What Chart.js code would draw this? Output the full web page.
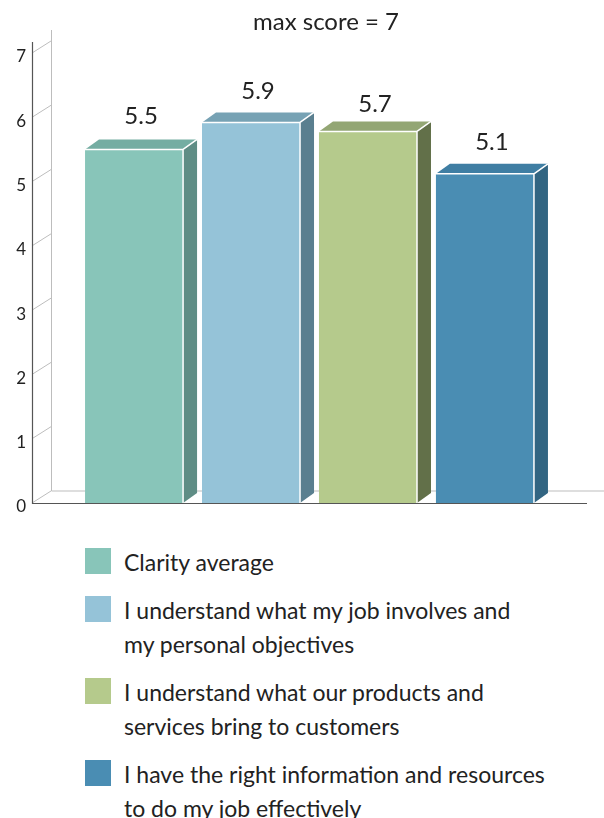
<!DOCTYPE html>
<html>
<head>
<meta charset="utf-8">
<script src="https://cdn.jsdelivr.net/npm/chart.js@4/dist/chart.umd.min.js"></script>
<style>
  html, body { margin: 0; padding: 0; background: #ffffff; }
  body { width: 604px; height: 818px; overflow: hidden; font-family: Lato, "Open Sans", sans-serif; color: #222; }
  #wrap { position: relative; width: 604px; height: 530px; }
  #legend { position: absolute; left: 0; top: 545px; width: 604px; }
  .item { display: flex; align-items: flex-start; margin-bottom: 14px; }
  .box { width: 26px; height: 26px; margin-left: 85px; margin-top: 3px; flex: none; }
  .txt { margin-left: 13px; font-size: 23px; line-height: 34px; margin-top: 0px; }
</style>
</head>
<body>
<div id="wrap"><canvas id="c"></canvas></div>
<div id="legend"></div>
<script>
// ---- data ----
const titleText = "max score = 7";
const categories = [""];
const seriesNames = [
  ["Clarity average"],
  ["I understand what my job involves and", "my personal objectives"],
  ["I understand what our products and", "services bring to customers"],
  ["I have the right information and resources", "to do my job effectively"]
];
const seriesValues = [5.5, 5.92, 5.78, 5.12];
const valueLabels = ["5.5", "5.9", "5.7", "5.1"];
const yTicks = [0, 1, 2, 3, 4, 5, 6, 7];

// ---- styles ----
const frontColors = ["#88c5b9", "#95c3d8", "#b5ca8c", "#4a8db3"];
const topColors   = ["#74ada2", "#77a2b4", "#93a674", "#3f7ea3"];
const sideColors  = ["#5f8d85", "#5a7f8f", "#627049", "#326582"];
const DX = 14, DY = 10;        // bar depth
const WDX = 19, WDY = 12;      // wall depth

const threeD = {
  id: "threeD",
  beforeDatasetsDraw(chart) {
    const ctx = chart.ctx, a = chart.chartArea, ys = chart.scales.y;
    ctx.save();
    ctx.strokeStyle = "#bdbdbd"; ctx.lineWidth = 1;
    ctx.beginPath();
    ctx.moveTo(a.left + WDX + 0.5, a.top - 23);
    ctx.lineTo(a.left + WDX + 0.5, a.bottom - WDY);
    ctx.lineTo(chart.width, a.bottom - WDY);
    ctx.stroke();
    yTicks.forEach(v => {
      const p = ys.getPixelForValue(v);
      ctx.beginPath();
      ctx.moveTo(a.left, p);
      ctx.lineTo(a.left + WDX, p - WDY);
      ctx.stroke();
    });
    ctx.strokeStyle = "#555"; ctx.lineWidth = 1.2;
    ctx.beginPath();
    ctx.moveTo(a.left + 0.5, a.top - 11);
    ctx.lineTo(a.left + 0.5, a.bottom + 0.5);
    ctx.lineTo(a.right, a.bottom + 0.5);
    ctx.stroke();
    ctx.restore();
  },
  afterDatasetsDraw(chart) {
    const ctx = chart.ctx, ys = chart.scales.y;
    ctx.save();
    chart.data.datasets.forEach((ds, i) => {
      const el = chart.getDatasetMeta(i).data[0];
      if (!el) return;
      const w = el.width, l = el.x - w / 2, r = el.x + w / 2, t = el.y, b = el.base;
      ctx.fillStyle = topColors[i];
      ctx.beginPath();
      ctx.moveTo(l, t); ctx.lineTo(l + DX, t - DY); ctx.lineTo(r + DX, t - DY); ctx.lineTo(r, t);
      ctx.closePath(); ctx.fill();
      ctx.fillStyle = sideColors[i];
      ctx.beginPath();
      ctx.moveTo(r, t); ctx.lineTo(r + DX, t - DY); ctx.lineTo(r + DX, b - DY); ctx.lineTo(r, b);
      ctx.closePath(); ctx.fill();
      ctx.strokeStyle = "#ffffff"; ctx.lineWidth = 1.5;
      ctx.beginPath();
      ctx.moveTo(l, t); ctx.lineTo(r, t); ctx.lineTo(r, b);
      ctx.moveTo(r, t); ctx.lineTo(r + DX, t - DY);
      ctx.stroke();
      const ly = ys.getPixelForValue(parseFloat(valueLabels[i]));
      ctx.fillStyle = "#222";
      ctx.font = "24px Lato, 'Open Sans', sans-serif";
      ctx.textAlign = "center"; ctx.textBaseline = "alphabetic";
      ctx.fillText(valueLabels[i], el.x + DX / 2, ly - DY - 15);
    });
    ctx.restore();
  },
  afterDraw(chart) {
    const ctx = chart.ctx;
    ctx.save();
    ctx.fillStyle = "#222";
    ctx.font = "24px Lato, 'Open Sans', sans-serif";
    ctx.textAlign = "center"; ctx.textBaseline = "middle";
    ctx.fillText(titleText, 326, 22);
    ctx.restore();
  }
};

const datasets = seriesValues.map((v, i) => ({
  label: seriesNames[i].join(" "),
  data: [v],
  backgroundColor: frontColors[i],
  borderWidth: 0,
  barPercentage: 0.838,
  categoryPercentage: 0.843
}));

new Chart(document.getElementById("c"), {
  type: "bar",
  data: { labels: categories, datasets },
  options: {
    responsive: true,
    maintainAspectRatio: false,
    animation: false,
    layout: { padding: { top: 53, right: 17, bottom: 27, left: 0 } },
    plugins: { legend: { display: false }, title: { display: false }, tooltip: { enabled: false } },
    scales: {
      x: { display: false },
      y: {
        min: 0, max: 7,
        afterFit: s => { s.width = 32; },
        border: { display: false },
        grid: { display: false, drawTicks: false },
        ticks: { stepSize: 1, padding: 6, labelOffset: 4, color: "#222", font: { family: "Lato", size: 17 } }
      }
    }
  },
  plugins: [threeD]
});

const lg = document.getElementById("legend");
seriesNames.forEach((lines, i) => {
  const it = document.createElement("div"); it.className = "item";
  const bx = document.createElement("div"); bx.className = "box"; bx.style.background = frontColors[i];
  const tx = document.createElement("div"); tx.className = "txt";
  lines.forEach((ln, k) => { if (k) tx.appendChild(document.createElement("br")); tx.appendChild(document.createTextNode(ln)); });
  it.appendChild(bx); it.appendChild(tx); lg.appendChild(it);
});
</script>
</body>
</html>
